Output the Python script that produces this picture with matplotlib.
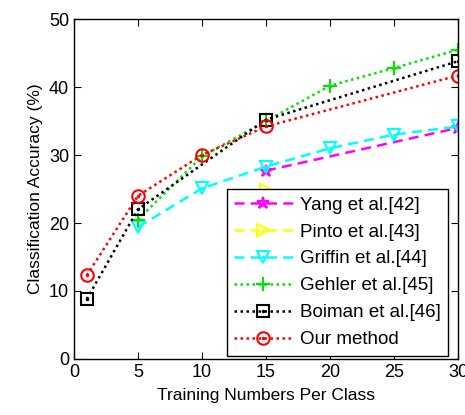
import matplotlib
matplotlib.use("Agg")
import matplotlib.pyplot as plt
from matplotlib.legend_handler import HandlerTuple

plt.rcParams['font.family'] = ['Liberation Sans', 'DejaVu Sans']

# =============================================================================
# DATOS
# =============================================================================
yang_x = [15, 30]
yang_y = [27.7, 34.0]

pinto_x = [15]
pinto_y = [24.8]

griffin_x = [5, 10, 15, 20, 25, 30]
griffin_y = [19.4, 25.1, 28.3, 31.0, 33.0, 34.2]

gehler_x = [5, 10, 15, 20, 25, 30]
gehler_y = [20.5, 29.8, 35.0, 40.2, 42.8, 45.5]

boiman_x = [1, 5, 15, 30]
boiman_y = [8.8, 22.0, 35.2, 43.8]

ours_x = [1, 5, 10, 15, 30]
ours_y = [12.3, 24.0, 30.0, 34.2, 41.7]

labels = ["Yang et al.[42]", "Pinto et al.[43]", "Griffin et al.[44]",
          "Gehler et al.[45]", "Boiman et al.[46]", "Our method"]

x_ticks = [0, 5, 10, 15, 20, 25, 30]
y_ticks = [0, 10, 20, 30, 40, 50]

# =============================================================================
# FIGURA
# =============================================================================
fig = plt.figure(figsize=(4.65, 4.15), dpi=100)
ax = fig.add_axes([0.159, 0.135, 0.826, 0.819])

dash = (0, (4, 2.5))
dot = (0, (1, 1.4))

series = [
    (yang_x, yang_y, (1, 0, 1), dash, '*', 9),
    (pinto_x, pinto_y, (1, 1, 0), dash, '>', 9),
    (griffin_x, griffin_y, (0, 1, 1), dash, 'v', 9),
    (gehler_x, gehler_y, (0, 0.9, 0), dot, '+', 10),
    (boiman_x, boiman_y, 'k', dot, 's', 9),
    (ours_x, ours_y, (1, 0, 0), dot, 'o', 9),
]

handles = []
for (xs, ys, c, ls, mk, ms) in series:
    l, = ax.plot(xs, ys, color=c, linestyle=ls, linewidth=1.8,
                 marker=mk, markersize=ms, markerfacecolor='none',
                 markeredgecolor=c, markeredgewidth=1.5)
    d, = ax.plot(xs, ys, linestyle='none', marker='.', markersize=3, color=c)
    handles.append((l, d))

ax.set_xlim(0, 30)
ax.set_ylim(0, 50)
ax.set_xticks(x_ticks)
ax.set_yticks(y_ticks)
ax.tick_params(direction='in', top=True, right=True, length=5,
               labelsize=13, width=0.8)
for s in ax.spines.values():
    s.set_linewidth(1.0)

ax.set_xlabel("Training Numbers Per Class", fontsize=12.5, labelpad=5)
ax.set_ylabel("Classification Accuracy (%)", fontsize=12.5, labelpad=4)

leg = ax.legend(handles, labels, loc='lower right',
                bbox_to_anchor=(0.975, 0.01),
                handler_map={tuple: HandlerTuple(ndivide=1)},
                fontsize=13.5, handlelength=3.1, handletextpad=0.4,
                labelspacing=0.52, borderpad=0.4, borderaxespad=0.0,
                fancybox=False, framealpha=1, edgecolor='k', numpoints=1)
leg.get_frame().set_linewidth(1.0)

plt.savefig('out.png', dpi=100)
